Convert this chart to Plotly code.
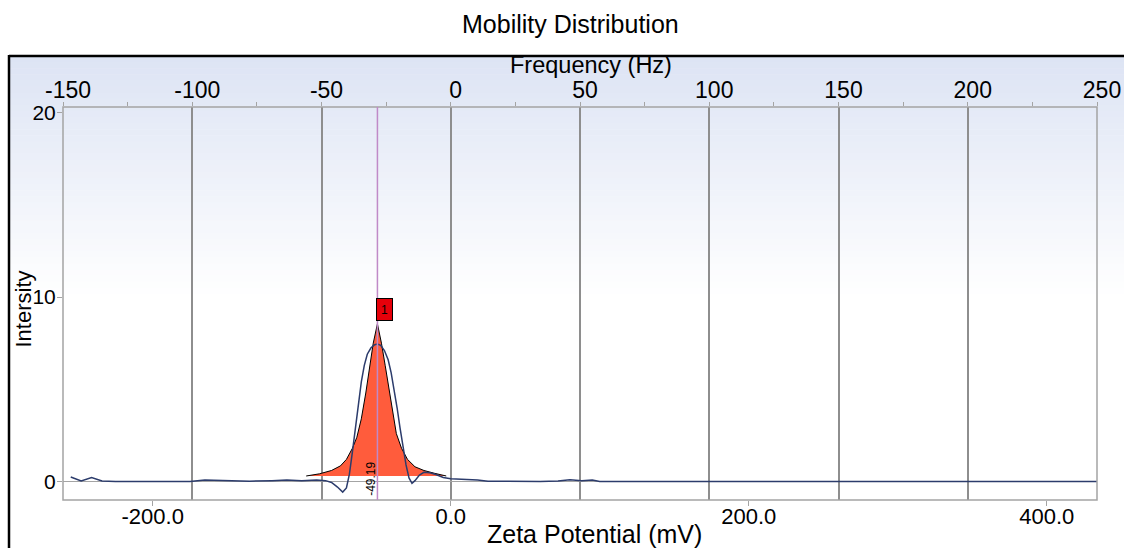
import plotly.graph_objects as go

# ---------------- data ----------------
zeta_measured = [-255, -248, -241, -234, -225, -200, -175, -165, -150, -135, -120, -110, -100,
                 -90, -84, -80, -76, -72.5, -70, -68, -66, -64, -62, -60, -58, -56, -53.5, -51,
                 -49.2, -47, -44.5, -42, -40, -38, -36, -34, -32, -30, -28, -26, -24, -21, -18,
                 -14, -10, -5, 0, 10, 18, 25, 40, 60, 72, 80, 88, 95, 100, 150, 250, 350, 434]
intensity_measured = [0.25, 0.03, 0.22, 0.03, 0.0, 0.0, 0.0, 0.08, 0.06, 0.02, 0.05, 0.08, 0.05,
                      0.08, 0.05, -0.05, -0.3, -0.57, -0.35, 0.4, 1.6, 2.9, 4.2, 5.4, 6.3, 6.9, 7.25, 7.42,
                      7.45, 7.38, 7.1, 6.6, 5.9, 5.0, 4.0, 2.9, 1.9, 0.9, 0.2, -0.1, 0.05, 0.35, 0.5,
                      0.48, 0.38, 0.22, 0.15, 0.12, 0.08, 0.02, 0.0, 0.0, 0.03, 0.1, 0.05, 0.08, 0.0, 0.0, 0.0, 0.0, 0.0]

zeta_peak = [-97, -88, -80, -74, -70, -66, -63, -60, -57, -54.5, -52, -49.2, -46.5, -44, -41.5,
             -39, -36.5, -33, -29, -24, -18, -11, -3]
intensity_peak = [0.3, 0.42, 0.6, 0.85, 1.2, 1.8, 2.4, 3.4, 4.8, 6.2, 7.5, 8.55, 7.5, 6.3, 5.0,
                  3.7, 2.6, 1.8, 1.2, 0.8, 0.6, 0.45, 0.3]

peak_zeta = -49.19
peak_label = "-49.19"
peak_number = "1"

freq_ticks = [-150, -100, -50, 0, 50, 100, 150, 200, 250]
freq_tick_labels = ["-150", "-100", "-50", "0", "50", "100", "150", "200", "250"]
zeta_ticks = [-200, 0, 200, 400]
zeta_tick_labels = ["-200.0", "0.0", "200.0", "400.0"]
y_ticks = [0, 10, 20]

# ---------------- layout helpers ----------------
W, H = 1124, 548
L, R, T, B = 63, 1097, 107, 500


def px_x(x):
    return (x - L) / (R - L)


def px_y(y):
    return (B - y) / (B - T)


FONT = "Arial, 'Liberation Sans', sans-serif"
GRID = "#8e8e8e"
EDGE = "#a4a4a4"

fig = go.Figure()

fig.add_trace(go.Scatter(x=zeta_peak, y=intensity_peak, mode="lines", fill="toself",
                         fillcolor="#ff5c3c", line=dict(color="black", width=1),
                         hoverinfo="skip", showlegend=False))
fig.add_trace(go.Scatter(x=zeta_measured, y=intensity_measured, mode="lines",
                         line=dict(color="#2c3c6c", width=1.5),
                         hoverinfo="skip", showlegend=False))

shapes = []
# gradient background inside the black frame
top_c = (221, 228, 244)
n = 40
y_start, y_end = 56, 300
for i in range(n):
    t = i / (n - 1)
    c = tuple(int(round(tc + (255 - tc) * t)) for tc in top_c)
    ya = y_start + (y_end - y_start) * i / n
    yb = y_start + (y_end - y_start) * (i + 1) / n
    shapes.append(dict(type="rect", xref="paper", yref="paper",
                       x0=px_x(9), x1=px_x(1124), y0=px_y(yb + 0.5), y1=px_y(ya),
                       fillcolor="rgb(%d,%d,%d)" % c, line=dict(width=0), layer="below"))
# plot border
shapes.append(dict(type="rect", xref="paper", yref="paper", x0=0, x1=1, y0=0, y1=1,
                   line=dict(color=EDGE, width=1.5), layer="above"))
# peak marker line
shapes.append(dict(type="line", xref="x", yref="paper", x0=peak_zeta, x1=peak_zeta, y0=0, y1=1,
                   line=dict(color="#c08ac8", width=1.5), layer="above"))
# black frame
shapes.append(dict(type="line", xref="paper", yref="paper", x0=px_x(9), x1=px_x(9),
                   y0=px_y(560), y1=px_y(55), line=dict(color="black", width=2.5)))
shapes.append(dict(type="line", xref="paper", yref="paper", x0=px_x(9), x1=px_x(1130),
                   y0=px_y(56), y1=px_y(56), line=dict(color="black", width=2.5)))

annotations = [
    dict(text="Mobility Distribution", xref="paper", yref="paper", x=px_x(570), y=px_y(24),
         showarrow=False, font=dict(family=FONT, size=25, color="black"), xanchor="center", yanchor="middle"),
    dict(text="Frequency (Hz)", xref="paper", yref="paper", x=px_x(591), y=px_y(65),
         showarrow=False, font=dict(family=FONT, size=23.5, color="black"), xanchor="center", yanchor="middle"),
    dict(text="Zeta Potential (mV)", xref="paper", yref="paper", x=px_x(594), y=px_y(534),
         showarrow=False, font=dict(family=FONT, size=25, color="black"), xanchor="center", yanchor="middle"),
    dict(text="Intersity", xref="paper", yref="paper", x=px_x(22.5), y=px_y(309), textangle=-90,
         showarrow=False, font=dict(family=FONT, size=22, color="black"), xanchor="center", yanchor="middle"),
    dict(text=peak_label, xref="x", yref="y", x=-53.7, y=0.13, textangle=-90,
         showarrow=False, font=dict(family=FONT, size=12, color="black"), xanchor="center", yanchor="middle"),
    dict(text=peak_number, xref="x", yref="y", x=-44.3, y=9.32,
         showarrow=False, font=dict(family=FONT, size=12, color="black"),
         bgcolor="#e6000a", bordercolor="black", borderwidth=1, borderpad=1, width=13, height=19,
         xanchor="center", yanchor="middle"),
]

fig.update_layout(
    width=W, height=H,
    margin=dict(l=L, r=W - R, t=T, b=H - B, autoexpand=False),
    paper_bgcolor="white", plot_bgcolor="rgba(0,0,0,0)",
    showlegend=False,
    font=dict(family=FONT, color="black"),
    shapes=shapes, annotations=annotations,
    xaxis=dict(range=[-260.2, 433.7], tickvals=zeta_ticks, ticktext=zeta_tick_labels,
               ticks="outside", ticklen=5, tickcolor=EDGE, showgrid=False, zeroline=False,
               showline=False, ticklabelstandoff=-8,
               tickfont=dict(family=FONT, size=22, color="black")),
    xaxis2=dict(range=[-150, 250], tickvals=freq_ticks, ticktext=freq_tick_labels,
                overlaying="x", side="top", anchor="y",
                ticks="outside", ticklen=4, tickcolor=EDGE,
                showgrid=True, gridcolor=GRID, gridwidth=2, zeroline=False, showline=False,
                ticklabelstandoff=-5, ticklabelshift=5,
                minor=dict(dtick=25, ticks="outside", ticklen=4, tickcolor=EDGE, showgrid=False),
                tickfont=dict(family=FONT, size=23, color="black")),
    yaxis=dict(range=[-1.0, 20.3], tickvals=y_ticks, ticks="outside", ticklen=5, tickcolor=EDGE,
               showgrid=False, zeroline=True, zerolinecolor=EDGE, zerolinewidth=1,
               showline=False, ticklabelstandoff=-3,
               tickfont=dict(family=FONT, size=21, color="black")),
)

# invisible trace to attach the frequency axis
fig.add_trace(go.Scatter(x=[-150, 250], y=[None, None], xaxis="x2", yaxis="y",
                         mode="lines", hoverinfo="skip", showlegend=False))

fig.write_html("out.html", config={"displayModeBar": False},
               post_script="document.body.style.margin='0px';")
